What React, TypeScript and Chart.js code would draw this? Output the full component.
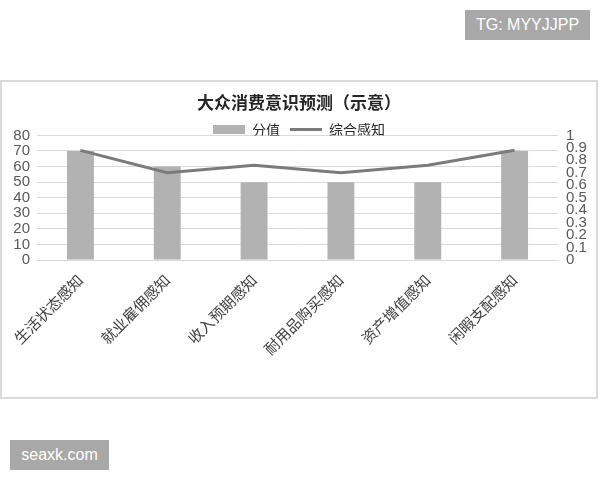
import React, { useEffect, useRef } from "react";
import { Chart, registerables } from "chart.js";

Chart.register(...registerables);

const categories = ["生活状态感知", "就业雇佣感知", "收入预期感知", "耐用品购买感知", "资产增值感知", "闲暇支配感知"];
const scoreValues = [70, 60, 50, 50, 50, 70];
const perceptionValues = [0.88, 0.7, 0.76, 0.7, 0.76, 0.88];
const leftTicks = [0, 10, 20, 30, 40, 50, 60, 70, 80];
const rightTicks = [0, 0.1, 0.2, 0.3, 0.4, 0.5, 0.6, 0.7, 0.8, 0.9, 1];
const titleText = "大众消费意识预测（示意）";
const seriesNames = ["分值", "综合感知"];

const BAR_COLOR = "#b2b2b2";
const LINE_COLOR = "#7b7b7b";
const GRID_COLOR = "#d9d9d9";
const TICK_COLOR = "#595959";
const CJK = "'Noto Sans CJK SC', sans-serif";
const LATIN = "'Liberation Sans', Arial, sans-serif";

const legendShrink = {
  id: "legendShrink",
  beforeLayout(chart: any) {
    const lg = chart.legend;
    if (lg && !lg._shrunk) {
      const orig = lg.fit.bind(lg);
      lg.fit = () => {
        orig();
        lg.height = Math.max(0, lg.height - 11);
      };
      lg._shrunk = true;
    }
  },
};

export default function App() {
  const ref = useRef<HTMLCanvasElement | null>(null);

  useEffect(() => {
    if (!ref.current) return;
    const chart = new Chart(ref.current, {
      type: "bar",
      data: {
        labels: categories,
        datasets: [
          {
            type: "line",
            label: seriesNames[1],
            data: perceptionValues,
            yAxisID: "y1",
            borderColor: LINE_COLOR,
            backgroundColor: LINE_COLOR,
            borderWidth: 3,
            pointRadius: 0,
            tension: 0,
          } as any,
          {
            type: "bar",
            label: seriesNames[0],
            data: scoreValues,
            yAxisID: "y",
            backgroundColor: BAR_COLOR,
            borderWidth: 0,
            barPercentage: 0.31,
            categoryPercentage: 1,
          },
        ],
      },
      plugins: [legendShrink],
      options: {
        responsive: false,
        animation: false,
        layout: { padding: 0 },
        plugins: {
          tooltip: { enabled: false },
          title: {
            display: true,
            text: titleText,
            color: "#262626",
            font: { family: CJK, size: 17, weight: "bold" },
            padding: { top: 10, bottom: 0 },
          },
          legend: {
            display: true,
            reverse: true,
            labels: {
              color: "#262626",
              font: { family: CJK, size: 14 },
              usePointStyle: true,
              pointStyleWidth: 32,
              boxHeight: 9,
              padding: 10,
              generateLabels: (c: any) => {
                const items = Chart.defaults.plugins.legend.labels.generateLabels(c);
                return items.map((it: any) => {
                  if (it.datasetIndex === 0) {
                    it.pointStyle = "line";
                    it.lineWidth = 3;
                    it.strokeStyle = LINE_COLOR;
                  } else {
                    it.pointStyle = "rect";
                    it.lineWidth = 0;
                    it.fillStyle = BAR_COLOR;
                    it.strokeStyle = BAR_COLOR;
                  }
                  return it;
                });
              },
            },
          },
        },
        scales: {
          x: {
            grid: { display: false },
            border: { display: true, color: GRID_COLOR, width: 1 },
            ticks: {
              color: "#404040",
              font: { family: CJK, size: 15 },
              minRotation: 45,
              maxRotation: 45,
              autoSkip: false,
            },
            afterFit: (axis: any) => {
              axis.height = 137;
            },
          },
          y: {
            position: "left",
            min: leftTicks[0],
            max: leftTicks[leftTicks.length - 1],
            grid: { color: GRID_COLOR, lineWidth: 1, drawTicks: false },
            border: { display: false },
            afterBuildTicks: (axis: any) => {
              axis.ticks = leftTicks.map((v) => ({ value: v }));
            },
            ticks: {
              color: TICK_COLOR,
              font: { family: LATIN, size: 15 },
              padding: 7,
              autoSkip: false,
            },
            afterFit: (axis: any) => {
              axis.width = 35;
            },
          },
          y1: {
            position: "right",
            min: rightTicks[0],
            max: rightTicks[rightTicks.length - 1],
            grid: { display: false, drawTicks: false },
            border: { display: false },
            afterBuildTicks: (axis: any) => {
              axis.ticks = rightTicks.map((v) => ({ value: v }));
            },
            ticks: {
              color: TICK_COLOR,
              font: { family: LATIN, size: 15 },
              padding: 8,
              autoSkip: false,
              callback: (v: any) => String(Math.round(Number(v) * 10) / 10),
            },
            afterFit: (axis: any) => {
              axis.width = 38;
            },
          },
        },
      },
    });
    return () => chart.destroy();
  }, []);

  return (
    <div style={{ position: "absolute", left: 0, top: 0, width: 600, height: 480, background: "#ffffff", overflow: "hidden" }}>
      <div
        style={{
          position: "absolute",
          left: 0,
          top: 80,
          width: 594,
          height: 315,
          border: "2px solid #dadada",
          background: "#ffffff",
        }}
      >
        <canvas ref={ref} width={594} height={315} style={{ display: "block" }} />
      </div>
      <div
        style={{
          position: "absolute",
          left: 465,
          top: 10,
          width: 125,
          height: 30,
          background: "#a8a8a8",
          color: "#ffffff",
          fontFamily: LATIN,
          fontSize: 16,
          lineHeight: "30px",
          textAlign: "center",
        }}
      >
        TG: MYYJJPP
      </div>
      <div
        style={{
          position: "absolute",
          left: 10,
          top: 440,
          width: 99,
          height: 30,
          background: "#a8a8a8",
          color: "#ffffff",
          fontFamily: LATIN,
          fontSize: 16,
          lineHeight: "30px",
          textAlign: "center",
        }}
      >
        seaxk.com
      </div>
    </div>
  );
}
